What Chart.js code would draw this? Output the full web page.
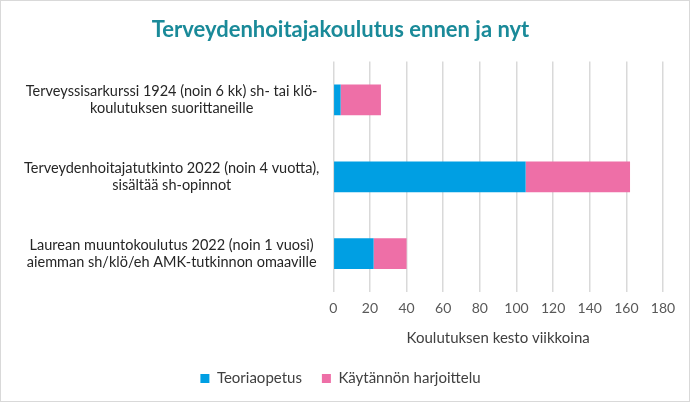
<!DOCTYPE html>
<html>
<head>
<meta charset="utf-8">
<script src="https://cdn.jsdelivr.net/npm/chart.js@4/dist/chart.umd.min.js"></script>
<style>
  html, body { margin: 0; padding: 0; background: #fff; }
  #wrap { width: 688px; height: 400px; border: 1px solid #d9d9d9; position: relative; }
</style>
</head>
<body>
<div id="wrap"><canvas id="chart"></canvas></div>
<script>
// Koulutukset (kategoriat)
const categories = [
  ['Terveyssisarkurssi 1924 (noin 6 kk) sh- tai klö-', 'koulutuksen suorittaneille'],
  ['Terveydenhoitajatutkinto 2022 (noin 4 vuotta),', 'sisältää sh-opinnot'],
  ['Laurean muuntokoulutus 2022 (noin 1 vuosi)', 'aiemman sh/klö/eh AMK-tutkinnon omaaville']
];
// Viikot
const teoriaopetus = [4, 105, 22];
const kaytannonHarjoittelu = [22, 57, 18];
const xMin = 0, xMax = 180, xStep = 20;

const font = 'Lato, "Open Sans", sans-serif';

new Chart(document.getElementById('chart'), {
  type: 'bar',
  data: {
    labels: categories,
    datasets: [
      { label: 'Teoriaopetus', data: teoriaopetus, backgroundColor: '#009fe3',
        barPercentage: 0.4, categoryPercentage: 1 },
      { label: 'Käytännön harjoittelu', data: kaytannonHarjoittelu, backgroundColor: '#ee6fa7',
        barPercentage: 0.4, categoryPercentage: 1 }
    ]
  },
  options: {
    indexAxis: 'y',
    responsive: true,
    maintainAspectRatio: false,
    animation: false,
    layout: { padding: { left: 17, right: 26, top: 4, bottom: 5 } },
    scales: {
      x: {
        stacked: true,
        min: xMin, max: xMax,
        ticks: { stepSize: xStep, color: '#595959', font: { family: font, size: 14 }, padding: 8 },
        grid: { color: '#d9d9d9', lineWidth: 1.5, drawTicks: false },
        border: { display: false },
        title: { display: true, text: 'Koulutuksen kesto viikkoina', color: '#404040',
                 font: { family: font, size: 15 }, padding: { top: 4 } }
      },
      y: {
        stacked: true,
        ticks: { color: '#262626', font: { family: font, size: 14.5 }, crossAlign: 'center', padding: 6 },
        grid: { display: false },
        border: { display: false }
      }
    },
    plugins: {
      title: {
        display: true,
        text: 'Terveydenhoitajakoulutus ennen ja nyt',
        color: '#1a8a99',
        font: { family: font, size: 22, weight: 'bold' },
        padding: { top: 12, bottom: 18 }
      },
      legend: {
        position: 'bottom',
        labels: { boxWidth: 9, boxHeight: 9, color: '#404040', padding: 20,
                  font: { family: font, size: 15 } }
      },
      tooltip: { enabled: false }
    }
  }
});
</script>
</body>
</html>
